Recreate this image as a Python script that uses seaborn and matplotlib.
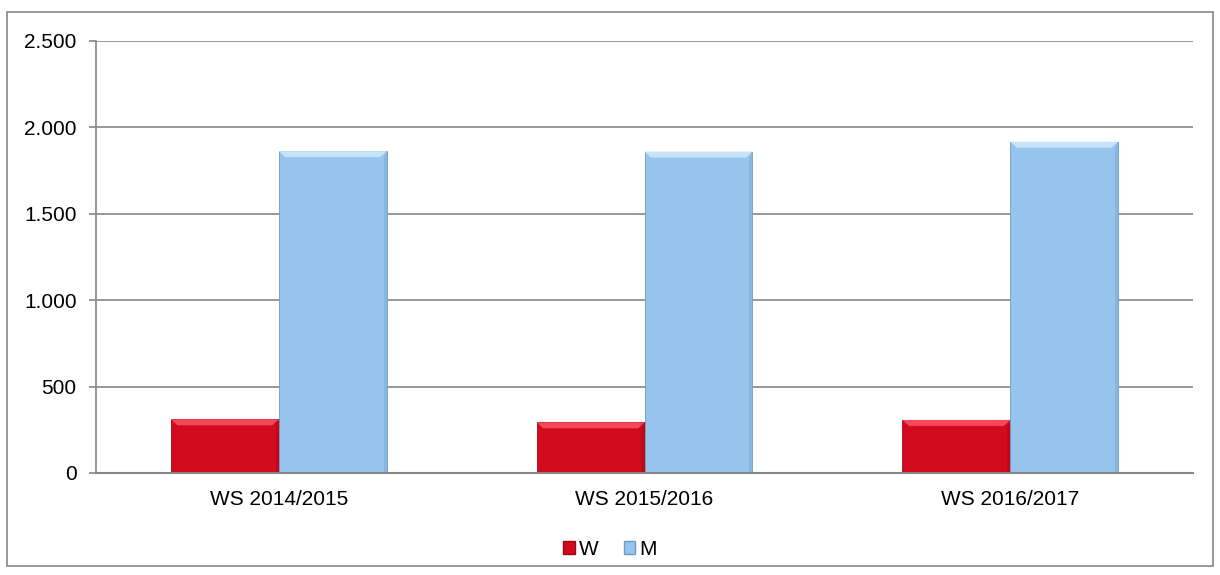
import matplotlib
matplotlib.use("Agg")
import matplotlib.pyplot as plt
import seaborn as sns
import pandas as pd
from matplotlib.patches import Polygon, Rectangle
from matplotlib.ticker import FuncFormatter

# Daten
semester = ["WS 2014/2015", "WS 2015/2016", "WS 2016/2017"]
frauen = [311, 293, 307]
maenner = [1863, 1860, 1917]
gruppen = ["W", "M"]
farben = {"W": "#D20A1E", "M": "#97C4ED"}
kanten = {"W": "#9E0716", "M": "#6E9CC8"}
hell = {"W": "#F2485A", "M": "#C8E4FA"}

df = pd.DataFrame({
    "Semester": semester * 2,
    "Gruppe": ["W"] * 3 + ["M"] * 3,
    "Anzahl": frauen + maenner,
})

sns.set_theme(style="white")
plt.rcParams["font.family"] = ["Liberation Sans", "DejaVu Sans"]
plt.rcParams["text.color"] = "black"
plt.rcParams["xtick.color"] = "black"
plt.rcParams["ytick.color"] = "black"

fig = plt.figure(figsize=(12.2, 5.75), dpi=100)
ax = fig.add_axes([0.0787, 0.1774, 0.8993, 0.7513])

sns.barplot(data=df, x="Semester", y="Anzahl", hue="Gruppe", order=semester,
            hue_order=gruppen, palette=farben, width=0.59, ax=ax,
            legend=False, saturation=1)

# Abgeschrägte Kanten (Bevel) nachahmen
for container, g in zip(ax.containers, gruppen):
    for bar in container:
        x0, y0 = bar.get_x(), bar.get_y()
        w, h = bar.get_width(), bar.get_height()
        bar.set_edgecolor(kanten[g])
        bar.set_linewidth(0.6)
        dy = 2500 * 6 / 432
        dx = w * 0.06
        top = Polygon([(x0, y0 + h), (x0 + w, y0 + h), (x0 + w - dx, y0 + h - dy),
                       (x0 + dx, y0 + h - dy)], closed=True,
                      facecolor=hell[g], edgecolor="none", zorder=bar.get_zorder() + 0.1)
        ax.add_patch(top)
        side = Polygon([(x0 + w, y0 + h), (x0 + w, y0), (x0 + w - dx * 0.5, y0),
                        (x0 + w - dx * 0.5, y0 + h - dy)], closed=True,
                       facecolor=kanten[g], alpha=0.35, edgecolor="none",
                       zorder=bar.get_zorder() + 0.1)
        ax.add_patch(side)

ax.set_ylim(0, 2500)
ax.set_yticks(range(0, 2501, 500))
ax.yaxis.set_major_formatter(FuncFormatter(lambda v, p: f"{int(v):,}".replace(",", ".")))
ax.yaxis.grid(True, color="#868686", linewidth=1.2)
ax.set_axisbelow(True)
ax.set_xlabel("")
ax.set_ylabel("")

for s in ["top", "right"]:
    ax.spines[s].set_visible(False)
ax.spines["left"].set_color("#868686")
ax.spines["bottom"].set_color("#868686")
ax.spines["left"].set_linewidth(1.2)
ax.spines["bottom"].set_linewidth(1.5)

ax.tick_params(axis="y", length=5, color="#868686", width=1.2, pad=9,
               labelsize=15, labelcolor="black", left=True)
ax.tick_params(axis="x", length=0, pad=12, labelsize=15, labelcolor="black")

handles = [Rectangle((0, 0), 1, 1, facecolor=farben[g], edgecolor=kanten[g]) for g in gruppen]
fig.legend(handles, gruppen, loc="center", bbox_to_anchor=(0.5, 0.045), ncol=2,
           frameon=False, fontsize=15, handlelength=0.55, handleheight=0.55,
           handletextpad=0.2, columnspacing=1.2)

# Rahmen um die Grafik
fig.add_artist(Rectangle((7 / 1220, 9 / 575), 1206 / 1220, 554 / 575,
                         transform=fig.transFigure, fill=False,
                         edgecolor="#868686", linewidth=1.2))

fig.savefig("out.png", dpi=100)
